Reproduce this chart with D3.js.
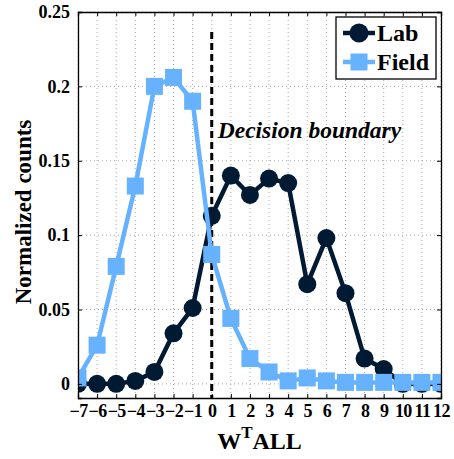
<!DOCTYPE html>
<html>
<head>
<meta charset="utf-8">
<script src="https://cdn.jsdelivr.net/npm/d3@7"></script>
</head>
<body style="margin:0;background:#fff">
<div id="chart"></div>
<script>
// bins of the projection W^T ALL
var bins = [-7, -6, -5, -4, -3, -2, -1, 0, 1, 2, 3, 4, 5, 6, 7, 8, 9, 10, 11, 12];
var labCounts = [0, 0, 0, 0.002, 0.008, 0.034, 0.051, 0.113, 0.140, 0.127, 0.138, 0.135, 0.067, 0.098, 0.061, 0.017, 0.010, 0, 0, 0];
var fieldCounts = [0.004, 0.026, 0.079, 0.133, 0.200, 0.206, 0.190, 0.087, 0.044, 0.017, 0.008, 0.002, 0.004, 0.002, 0.001, 0.001, 0.001, 0.001, 0.001, 0.001];
var yTicks = [0, 0.05, 0.1, 0.15, 0.2, 0.25];
var yTickLabels = ["0", "0.05", "0.1", "0.15", "0.2", "0.25"];
var boundary = 0;

var width = 454, height = 459;
var margin = {top: 12, right: 13, bottom: 61, left: 78};
var w = width - margin.left - margin.right;
var h = height - margin.top - margin.bottom;

var labColor = "#001a33", fieldColor = "#66b2ff";
var serif = "'Liberation Serif'";

function bold(sel, size) {
    return sel.style("font-family", serif).style("font-weight", "bold").style("font-size", size + "px");
}

var svg = d3.select("#chart").append("svg")
        .attr("width", width)
        .attr("height", height)
        .style("font-family", serif);
var g = svg.append("g")
        .attr("transform", "translate(" + margin.left + "," + margin.top + ")");

var x = d3.scaleLinear().domain([-7, 12]).range([0, w]);
var y = d3.scaleLinear().domain([-0.0095, 0.25]).range([h, 0]);

// dotted grid
g.append("g").selectAll("line").data(bins).join("line")
        .attr("x1", d => x(d)).attr("x2", d => x(d))
        .attr("y1", 0).attr("y2", h)
        .attr("stroke", "#aaa").attr("stroke-width", 1).attr("stroke-dasharray", "1,3");
g.append("g").selectAll("line").data(yTicks).join("line")
        .attr("x1", 0).attr("x2", w)
        .attr("y1", d => y(d)).attr("y2", d => y(d))
        .attr("stroke", "#aaa").attr("stroke-width", 1).attr("stroke-dasharray", "1,3");

// decision boundary
g.append("line")
        .attr("x1", x(boundary)).attr("x2", x(boundary))
        .attr("y1", 20).attr("y2", h)
        .attr("stroke", "#000").attr("stroke-width", 3).attr("stroke-dasharray", "7,4");
bold(g.append("text"), 23.5)
        .attr("x", x(boundary) + 6).attr("y", 126)
        .style("font-style", "italic")
        .text("Decision boundary");

// nested svg clips the marks to the plot box
var plot = svg.append("svg")
        .attr("x", margin.left).attr("y", margin.top)
        .attr("width", w).attr("height", h);
var line = d3.line().x((d, i) => x(bins[i])).y(d => y(d));

plot.append("path").datum(labCounts)
        .attr("d", line).attr("fill", "none")
        .attr("stroke", labColor).attr("stroke-width", 4.5);
plot.append("g").selectAll("circle").data(labCounts).join("circle")
        .attr("cx", (d, i) => x(bins[i])).attr("cy", d => y(d))
        .attr("r", 9).attr("fill", labColor);

plot.append("path").datum(fieldCounts)
        .attr("d", line).attr("fill", "none")
        .attr("stroke", fieldColor).attr("stroke-width", 4.5);
plot.append("g").selectAll("rect").data(fieldCounts).join("rect")
        .attr("x", (d, i) => x(bins[i]) - 8.5).attr("y", d => y(d) - 8.5)
        .attr("width", 17).attr("height", 17)
        .attr("fill", fieldColor);

// axes, ticks pointing inward
var axes = svg.append("g")
        .attr("transform", "translate(" + margin.left + "," + margin.top + ")");
var xAxis = axes.append("g").attr("transform", "translate(0," + h + ")")
        .call(d3.axisBottom(x).tickValues(bins).tickSize(-4).tickPadding(6)
                .tickFormat(d => d < 0 ? "\u2212" + Math.abs(d) : d));
var xTop = axes.append("g").call(d3.axisTop(x).tickValues(bins).tickSize(-4).tickFormat(""));
var yAxis = axes.append("g")
        .call(d3.axisLeft(y).tickValues(yTicks).tickSize(-4).tickPadding(8)
                .tickFormat((d, i) => yTickLabels[i]));
var yRight = axes.append("g").attr("transform", "translate(" + w + ",0)")
        .call(d3.axisRight(y).tickValues(yTicks).tickSize(-4).tickFormat(""));
[xAxis, xTop, yAxis, yRight].forEach(function (a) {
    a.attr("font-family", null).attr("font-size", null);
    a.select(".domain").attr("stroke", "#000").attr("stroke-width", 1.3);
    a.selectAll(".tick line").attr("stroke", "#000");
    bold(a.selectAll("text"), 18).attr("fill", "#000");
});
xAxis.selectAll("text").attr("letter-spacing", -0.6);

// legend
var legend = svg.append("g").attr("transform", "translate(336,17)");
legend.append("rect").attr("width", 100).attr("height", 62)
        .attr("fill", "#fff").attr("stroke", "#000").attr("stroke-width", 1.3);
var items = [{name: "Lab", color: labColor, shape: "circle"}, {name: "Field", color: fieldColor, shape: "square"}];
items.forEach(function (it, i) {
    var cy = 16 + i * 29;
    legend.append("line").attr("x1", 7).attr("x2", 39).attr("y1", cy).attr("y2", cy)
            .attr("stroke", it.color).attr("stroke-width", 4.5);
    if (it.shape === "circle") {
        legend.append("circle").attr("cx", 23).attr("cy", cy).attr("r", 9.5).attr("fill", it.color);
    } else {
        legend.append("rect").attr("x", 14.5).attr("y", cy - 8.5).attr("width", 17).attr("height", 17).attr("fill", it.color);
    }
    bold(legend.append("text"), 24).attr("x", 41).attr("y", cy + 8)
            .text(it.name);
});

// axis titles
var xt = bold(svg.append("text"), 24)
        .attr("x", margin.left + w / 2).attr("y", 449)
        .attr("text-anchor", "middle");
xt.append("tspan").text("W");
xt.append("tspan").style("font-size", "17px").attr("dy", -11).text("T");
xt.append("tspan").attr("dy", 11).text("ALL");

bold(svg.append("text"), 23)
        .attr("transform", "translate(31,212)rotate(-90)")
        .attr("text-anchor", "middle")
        .text("Normalized counts");
</script>
</body>
</html>
